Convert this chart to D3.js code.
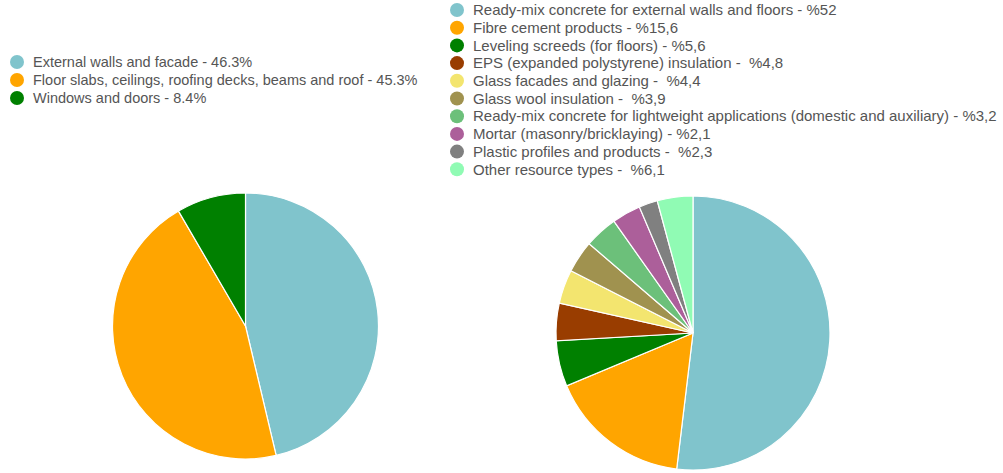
<!DOCTYPE html>
<html>
<head>
<meta charset="utf-8">
<script src="https://cdn.jsdelivr.net/npm/d3@7"></script>
<style>
  body { margin: 0; background: #fff; }
  svg text { font-family: "Liberation Sans", Arial, sans-serif; font-size: 15px; fill: #555; white-space: pre; }
</style>
</head>
<body>
<svg id="chart" width="1003" height="473"></svg>
<script>
// left chart: building elements
var leftLabels = ['External walls and facade - 46.3%', 'Floor slabs, ceilings, roofing decks, beams and roof - 45.3%', 'Windows and doors - 8.4%'];
var leftValues = [46.3, 45.3, 8.4];
var leftColors = ['#80c4cc', '#ffa500', '#008000'];

// right chart: resource types (slice sizes)
var rightLabels = [
  'Ready-mix concrete for external walls and floors - %52',
  'Fibre cement products - %15,6',
  'Leveling screeds (for floors) - %5,6',
  'EPS (expanded polystyrene) insulation -  %4,8',
  'Glass facades and glazing -  %4,4',
  'Glass wool insulation -  %3,9',
  'Ready-mix concrete for lightweight applications (domestic and auxiliary) - %3,2',
  'Mortar (masonry/bricklaying) - %2,1',
  'Plastic profiles and products -  %2,3',
  'Other resource types -  %6,1'
];
var rightValues = [51.9, 16.8, 5.4, 4.4, 4.0, 3.8, 3.9, 3.4, 2.2, 4.2];
var rightColors = ['#80c4cc', '#ffa500', '#008000', '#993d00', '#f3e56f', '#a0924f', '#6cc07a', '#ac5f9a', '#808080', '#90fbb4'];

var svg = d3.select('#chart');

function drawPie(values, colors, cx, cy, r) {
  var pie = d3.pie().sort(null).value(d => d);
  var arc = d3.arc().innerRadius(0).outerRadius(r);
  var g = svg.append('g').attr('transform', `translate(${cx}, ${cy})`);
  g.selectAll('path')
    .data(pie(values))
    .enter()
    .append('path')
    .attr('d', arc)
    .attr('fill', (d, i) => colors[i])
    .attr('stroke', '#fff')
    .attr('stroke-width', 1.2);
}

function drawLegend(labels, colors, x, y, step, size) {
  var g = svg.append('g').attr('transform', `translate(${x}, ${y})`);
  var row = g.selectAll('g')
    .data(labels)
    .enter()
    .append('g')
    .attr('transform', (d, i) => `translate(0, ${i * step})`);
  row.append('circle')
    .attr('r', 7)
    .attr('fill', (d, i) => colors[i]);
  row.append('text')
    .attr('x', 16)
    .attr('dy', '0.35em')
    .style('font-size', size + 'px')
    .text(d => d);
}

drawPie(leftValues, leftColors, 245.5, 326, 133);
drawPie(rightValues, rightColors, 693, 333, 137);

drawLegend(leftLabels, leftColors, 17, 62, 18, 14.5);
drawLegend(rightLabels, rightColors, 457, 10, 17.7, 15);
</script>
</body>
</html>
